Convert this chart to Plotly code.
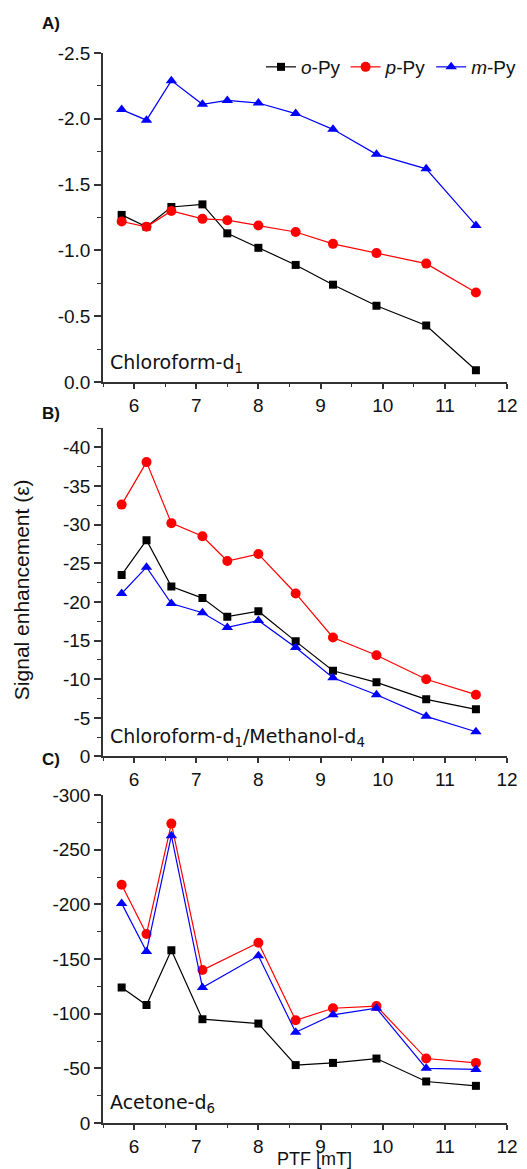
import plotly.graph_objects as go

# ---- data ----
ptf = [5.8, 6.2, 6.6, 7.1, 7.5, 8.0, 8.6, 9.2, 9.9, 10.7, 11.5]

a_o = [-1.27, -1.18, -1.33, -1.35, -1.13, -1.02, -0.89, -0.74, -0.58, -0.43, -0.09]
a_p = [-1.22, -1.18, -1.30, -1.24, -1.23, -1.19, -1.14, -1.05, -0.98, -0.90, -0.68]
a_m = [-2.07, -1.99, -2.29, -2.11, -2.14, -2.12, -2.04, -1.92, -1.73, -1.62, -1.19]

b_o = [-23.5, -28.0, -22.0, -20.5, -18.1, -18.8, -14.9, -11.1, -9.6, -7.4, -6.1]
b_p = [-32.6, -38.1, -30.2, -28.5, -25.3, -26.2, -21.1, -15.4, -13.1, -10.0, -8.0]
b_m = [-21.1, -24.5, -19.8, -18.6, -16.7, -17.6, -14.1, -10.2, -8.0, -5.2, -3.2]

ptf_c = [5.8, 6.2, 6.6, 7.1, 8.0, 8.6, 9.2, 9.9, 10.7, 11.5]
c_o = [-124, -108, -158, -95, -91, -53, -55, -59, -38, -34]
c_p = [-218, -173, -274, -140, -165, -94, -105, -107, -59, -55]
c_m = [-201, -157, -263, -124, -153, -83, -99, -105, -50, -49]

x_ticks = [6, 7, 8, 9, 10, 11, 12]
a_ticks = [0.0, -0.5, -1.0, -1.5, -2.0, -2.5]
a_labels = ["0.0", "-0.5", "-1.0", "-1.5", "-2.0", "-2.5"]
b_ticks = [0, -5, -10, -15, -20, -25, -30, -35, -40]
b_labels = ["0", "-5", "-10", "-15", "-20", "-25", "-30", "-35", "-40"]
c_ticks = [0, -50, -100, -150, -200, -250, -300]
c_labels = ["0", "-50", "-100", "-150", "-200", "-250", "-300"]

names = ["<i>o</i>-Py", "<i>p</i>-Py", "<i>m</i>-Py"]
colors = ["#000000", "#FF0000", "#0000FF"]
symbols = ["square", "circle", "triangle-up"]
msizes = [8, 10, 10]

panels = [
    (ptf, [a_o, a_p, a_m], a_ticks, a_labels, [0, -2.5], 0.25),
    (ptf, [b_o, b_p, b_m], b_ticks, b_labels, [0, -42.5], 2.5),
    (ptf_c, [c_o, c_p, c_m], c_ticks, c_labels, [0, -300], 25),
]

W, H = 527, 1169
L, R, T, B = 103, 20, 53, 1169 - 1122.7
pw, ph = W - L - R, H - T - B


def py(ypix):
    return (H - B - ypix) / ph


def px(xpix):
    return (xpix - L) / pw


fig = go.Figure()
for k, (xs, series, *_rest) in enumerate(panels):
    sfx = "" if k == 0 else str(k + 1)
    for i, ys in enumerate(series):
        fig.add_trace(go.Scatter(
            x=xs, y=ys, mode="lines+markers", name=names[i],
            line=dict(color=colors[i], width=1.2),
            marker=dict(symbol=symbols[i], size=msizes[i], color=colors[i]),
            xaxis="x" + sfx, yaxis="y" + sfx, showlegend=(k == 0),
        ))

FONT = "Arial"
tickfont = dict(family=FONT, size=19, color="#111")
domains = [(py(382), py(53)), (py(756.3), py(428)), (py(1122.7), py(795))]

axcommon = dict(showgrid=False, zeroline=False, showline=True, linecolor="#333",
                linewidth=1.5, ticks="outside", ticklen=7, tickwidth=1.5,
                tickcolor="#333", tickfont=tickfont, automargin=False)

layout = dict(width=W, height=H, margin=dict(l=L, r=R, t=T, b=B, autoexpand=False),
              plot_bgcolor="white", paper_bgcolor="white", showlegend=True)
for k, (xs, series, tv, tt, yr, ymin) in enumerate(panels):
    sfx = "" if k == 0 else str(k + 1)
    layout["xaxis" + sfx] = dict(
        axcommon, range=[5.5, 12], tickvals=x_ticks, anchor="y" + sfx,
        domain=[0, 1], ticklen=5,
        minor=dict(dtick=0.5, tick0=5.5, ticklen=3, ticks="outside", tickcolor="#333", tickwidth=1.2),
    )
    layout["yaxis" + sfx] = dict(
        axcommon, range=yr, tickvals=tv, ticktext=tt, anchor="x" + sfx,
        domain=list(domains[k]),
        minor=dict(dtick=ymin, tick0=0, ticklen=4, ticks="outside", tickcolor="#333", tickwidth=1.2),
    )

fig.update_layout(**layout)
fig.update_layout(legend=dict(orientation="h", x=px(521), xanchor="right", y=py(67), yanchor="middle",
                              font=dict(family=FONT, size=19, color="#111"),
                              bgcolor="rgba(0,0,0,0)", itemwidth=30, tracegroupgap=0))

anns = []
for txt, yy in [("A)", 24), ("B)", 413), ("C)", 759)]:
    anns.append(dict(text="<b>" + txt + "</b>", x=px(40), y=py(yy), xref="paper", yref="paper",
                     xanchor="left", yanchor="middle", showarrow=False,
                     font=dict(family=FONT, size=17, color="#111")))
for txt, yy in [("Chloroform-d<sub>1</sub>", 363), ("Chloroform-d<sub>1</sub>/Methanol-d<sub>4</sub>", 737),
                ("Acetone-d<sub>6</sub>", 1103)]:
    anns.append(dict(text=txt, x=px(108), y=py(yy), xref="paper", yref="paper",
                     xanchor="left", yanchor="middle", showarrow=False,
                     font=dict(family="DejaVu Sans", size=19, color="#111")))
anns.append(dict(text="Signal enhancement (ε)", x=px(21), y=py(590), xref="paper", yref="paper",
                 xanchor="center", yanchor="middle", textangle=-90, showarrow=False,
                 font=dict(family=FONT, size=21, color="#111")))
anns.append(dict(text="PTF [mT]", x=px(314), y=py(1170), xref="paper", yref="paper",
                 xanchor="center", yanchor="bottom", showarrow=False, borderpad=0,
                 font=dict(family=FONT, size=18, color="#111")))
fig.update_layout(annotations=anns)

fig.write_html("out.html", config={"displayModeBar": False},
               post_script="document.body.style.margin='0';document.body.style.overflow='hidden';")
